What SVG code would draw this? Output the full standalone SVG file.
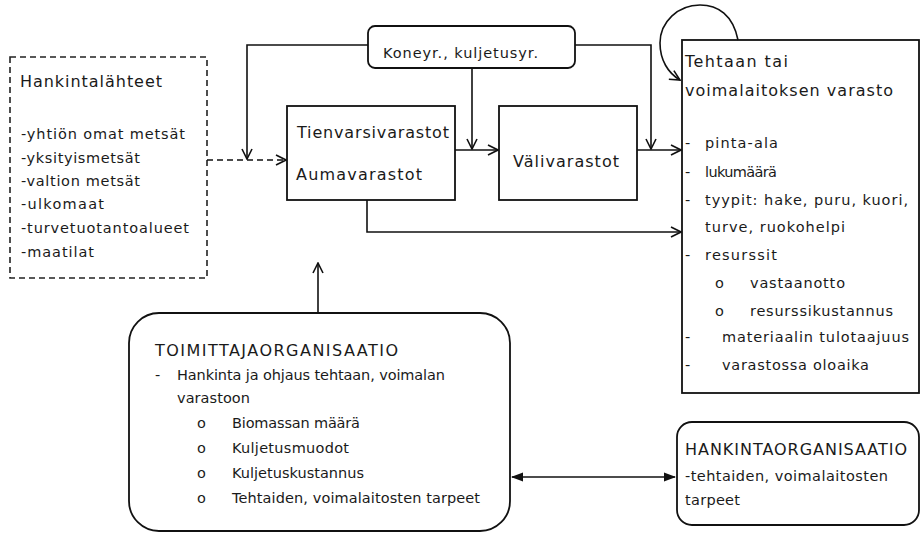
<svg xmlns="http://www.w3.org/2000/svg" width="923" height="534" viewBox="0 0 923 534">
<defs>
<marker id="open" viewBox="0 0 12 12" refX="11" refY="6" markerWidth="12" markerHeight="12" markerUnits="userSpaceOnUse" orient="auto">
<path d="M1,1 L11,6 L1,11" fill="none" stroke="#111" stroke-width="1.6"/>
</marker>
<marker id="solid" viewBox="0 0 12 12" refX="11" refY="6" markerWidth="12" markerHeight="12" markerUnits="userSpaceOnUse" orient="auto-start-reverse">
<path d="M0,1.5 L12,6 L0,10.5 Z" fill="#111"/>
</marker>
</defs>
<style>
text{font-family:"DejaVu Sans","Liberation Sans",sans-serif;fill:#1a1a1a}
.h{font-size:16px}
.l{font-size:14.5px}
.box{fill:#fff;stroke:#111;stroke-width:1.8}
.dash{fill:#fff;stroke:#222;stroke-width:1.6;stroke-dasharray:6 4}
.c{fill:none;stroke:#111;stroke-width:1.6}
</style>
<rect width="923" height="534" fill="#fff"/>

<g id="hankintalahteet">
<rect class="dash" x="10" y="57" width="197" height="221"/>
<text class="h" x="20" y="87" textLength="142">Hankintalähteet</text>
<text class="l" x="21" y="139" textLength="164">-yhtiön omat metsät</text>
<text class="l" x="21" y="163" textLength="119">-yksityismetsät</text>
<text class="l" x="21" y="186" textLength="119">-valtion metsät</text>
<text class="l" x="21" y="209" textLength="83">-ulkomaat</text>
<text class="l" x="21" y="233" textLength="168">-turvetuotantoalueet</text>
<text class="l" x="21" y="257" textLength="73">-maatilat</text>
</g>

<g id="koneyr">
<rect class="box" x="368" y="26" width="207" height="42" rx="7"/>
<text class="l" x="383" y="58" textLength="155">Koneyr., kuljetusyr.</text>
</g>

<g id="tienvarsi">
<rect class="box" x="287" y="106" width="168" height="94"/>
<text class="h" x="297" y="138" textLength="152">Tienvarsivarastot</text>
<text class="h" x="296" y="180" textLength="126">Aumavarastot</text>
</g>

<g id="valivarastot">
<rect class="box" x="499" y="106" width="138" height="94"/>
<text class="h" x="513" y="167" textLength="106">Välivarastot</text>
</g>

<g id="tehtaan">
<rect class="box" x="682" y="40" width="237" height="353"/>
<text class="h" x="685" y="67" textLength="103">Tehtaan tai</text>
<text class="h" x="685" y="96" textLength="208">voimalaitoksen varasto</text>
<text class="l" x="685" y="148">-</text>
<text class="l" x="705" y="148" textLength="73">pinta-ala</text>
<text class="l" x="685" y="177">-</text>
<text class="l" x="705" y="177" textLength="72">lukumäärä</text>
<text class="l" x="685" y="205">-</text>
<text class="l" x="705" y="205" textLength="203">tyypit: hake, puru, kuori,</text>
<text class="l" x="705" y="232" textLength="140">turve, ruokohelpi</text>
<text class="l" x="685" y="260">-</text>
<text class="l" x="705" y="260" textLength="72">resurssit</text>
<text class="l" x="715" y="288">o</text>
<text class="l" x="750" y="288" textLength="95">vastaanotto</text>
<text class="l" x="715" y="316">o</text>
<text class="l" x="750" y="316" textLength="143">resurssikustannus</text>
<text class="l" x="685" y="342">-</text>
<text class="l" x="722" y="342" textLength="187">materiaalin tulotaajuus</text>
<text class="l" x="685" y="370">-</text>
<text class="l" x="722" y="370" textLength="147">varastossa oloaika</text>
</g>

<g id="toimittaja">
<rect class="box" x="129" y="313" width="381" height="218" rx="30"/>
<text class="h" x="155" y="356" textLength="243">TOIMITTAJAORGANISAATIO</text>
<text class="l" x="155" y="380">-</text>
<text class="l" x="177" y="380" textLength="268">Hankinta ja ohjaus tehtaan, voimalan</text>
<text class="l" x="177" y="403" textLength="73">varastoon</text>
<text class="l" x="197" y="428">o</text>
<text class="l" x="232" y="428" textLength="128">Biomassan määrä</text>
<text class="l" x="197" y="453">o</text>
<text class="l" x="232" y="453" textLength="117">Kuljetusmuodot</text>
<text class="l" x="197" y="478">o</text>
<text class="l" x="232" y="478" textLength="132">Kuljetuskustannus</text>
<text class="l" x="197" y="503">o</text>
<text class="l" x="232" y="503" textLength="248">Tehtaiden, voimalaitosten tarpeet</text>
</g>

<g id="hankintaorg">
<rect class="box" x="677" y="422" width="242" height="103" rx="15"/>
<text class="h" x="685" y="455" textLength="222">HANKINTAORGANISAATIO</text>
<text class="l" x="685" y="481" textLength="203">-tehtaiden, voimalaitosten</text>
<text class="l" x="685" y="505" textLength="55">tarpeet</text>
</g>

<g id="connectors">
<path class="c" d="M207,160 L286,160" stroke-dasharray="6 4" marker-end="url(#open)"/>
<path class="c" d="M368,45 L247,45 L247,159" marker-end="url(#open)"/>
<path class="c" d="M472,68 L472,149" marker-end="url(#open)"/>
<path class="c" d="M455,150 L498,150" marker-end="url(#open)"/>
<path class="c" d="M575,45 L651,45 L651,149" marker-end="url(#open)"/>
<path class="c" d="M637,150 L681,150" marker-end="url(#open)"/>
<path class="c" d="M367,200 L367,232 L681,232" marker-end="url(#open)"/>
<path class="c" d="M318,313 L318,263" marker-end="url(#open)"/>
<path class="c" d="M512,477 L675,477" marker-start="url(#solid)" marker-end="url(#solid)"/>
<path class="c" d="M738,40 C733,15 718,5 700,5 C678,5 660,22 660,43 C660,60 668,73 680,80" marker-end="url(#open)"/>
</g>
</svg>
